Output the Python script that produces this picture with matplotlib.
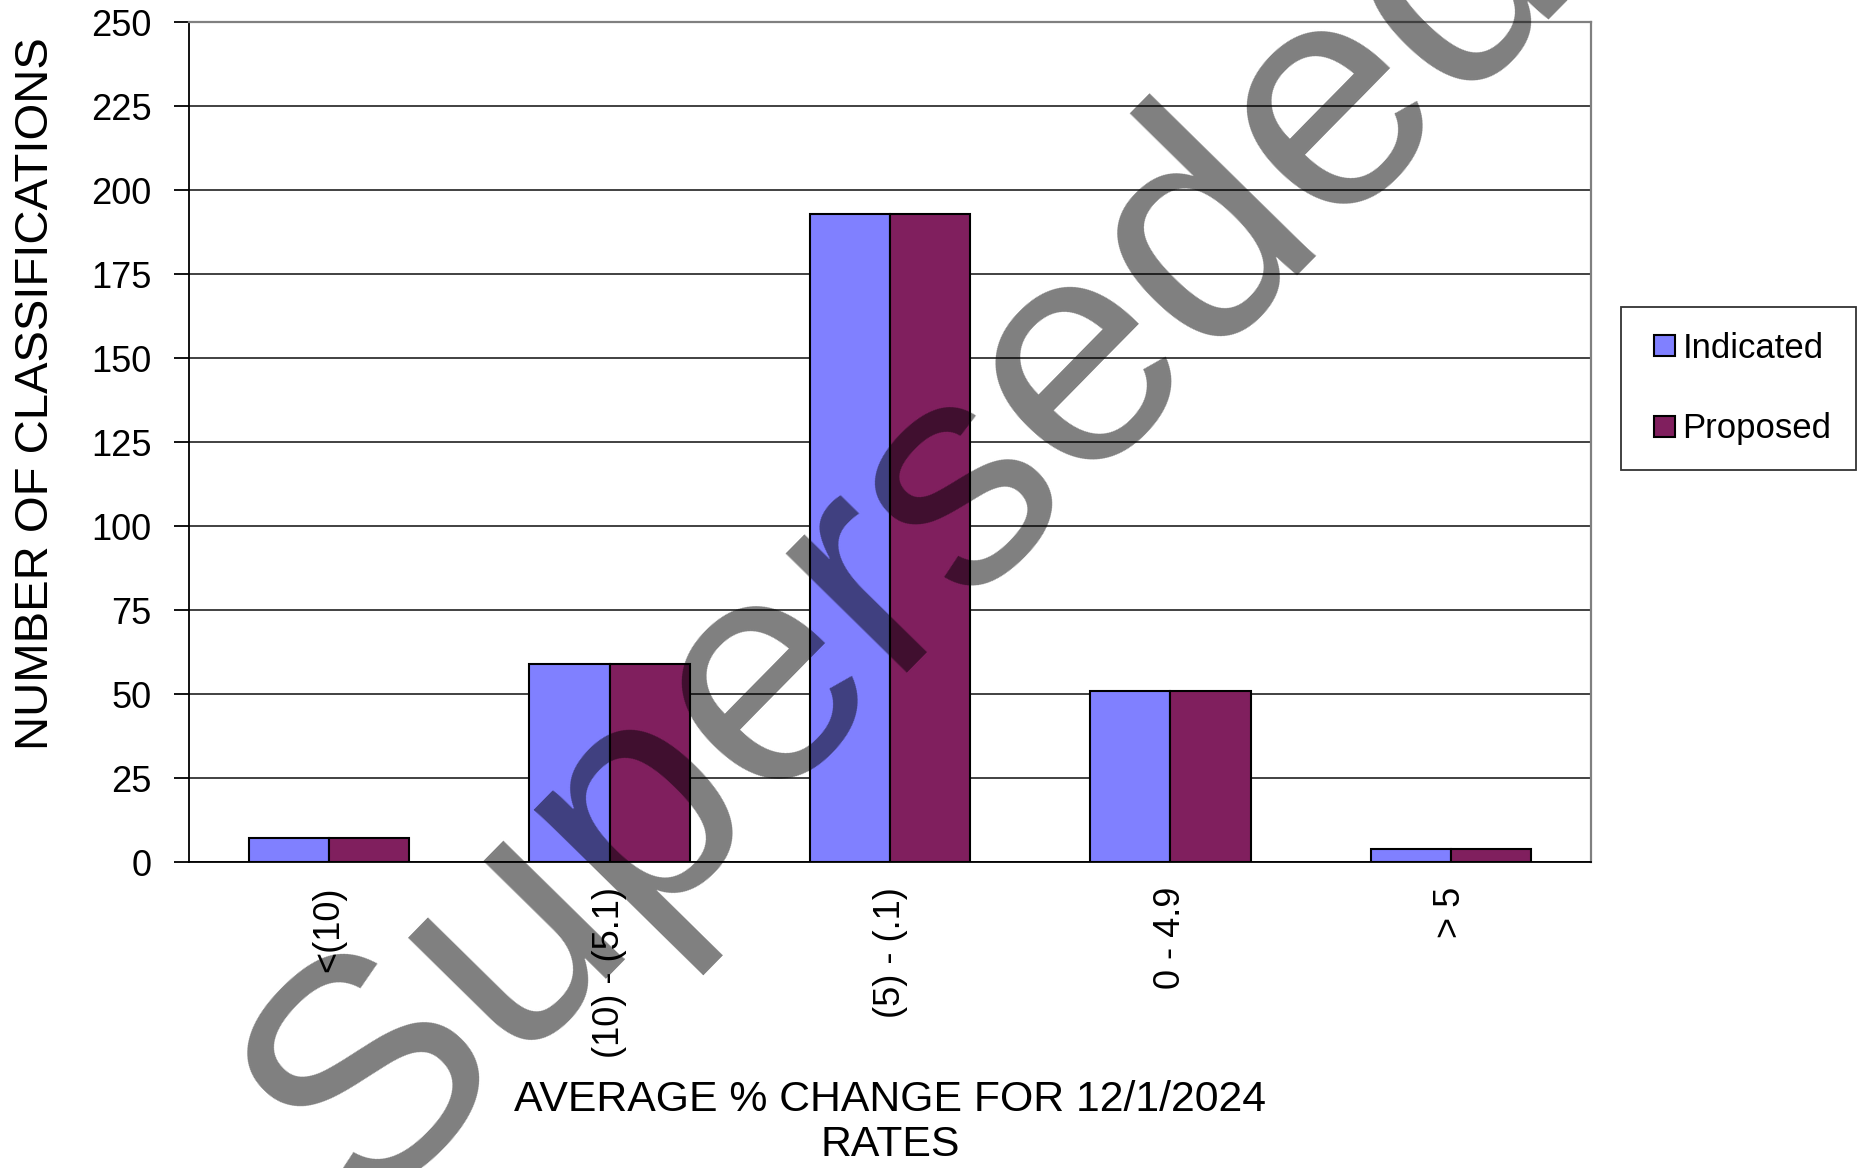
import numpy as np
import matplotlib
matplotlib.use("Agg")
import matplotlib.pyplot as plt
from matplotlib.patches import Patch, Rectangle
from matplotlib.legend_handler import HandlerPatch

categories = ["<(10)", "(10) - (5.1)", "(5) - (.1)", "0 - 4.9", "> 5"]
indicated = [7, 59, 193, 51, 4]
proposed = [7, 59, 193, 51, 4]
yticks = [0, 25, 50, 75, 100, 125, 150, 175, 200, 225, 250]

plt.rcParams['font.family'] = ['Liberation Sans', 'DejaVu Sans']

W, H = 1866, 1168
fig = plt.figure(figsize=(W / 100, H / 100), dpi=100)
ax = fig.add_axes([189 / W, 1 - 862 / H, (1591 - 189) / W, (862 - 22) / H])

x = np.arange(len(categories))
bw = 0.286
ax.bar(x - bw / 2, indicated, bw, color='#8080FF', edgecolor='black', linewidth=1.5, label='Indicated', zorder=2)
ax.bar(x + bw / 2, proposed, bw, color='#801F5E', edgecolor='black', linewidth=1.5, label='Proposed', zorder=2)

ax.set_xlim(-0.5, len(categories) - 0.5)
ax.set_ylim(0, 250)
ax.set_yticks(yticks)
ax.set_xticks(x)
ax.set_xticklabels(categories, rotation=90, fontsize=26)
ax.tick_params(axis='x', length=0, pad=18)
ax.tick_params(axis='y', direction='out', length=11, width=1.3, pad=16, labelsize=26)

ax.yaxis.grid(True, color='#333333', linewidth=1.3)
ax.set_axisbelow(True)
for s in ['top', 'right']:
    ax.spines[s].set_color('#808080')
    ax.spines[s].set_linewidth(1.6)
for s in ['left', 'bottom']:
    ax.spines[s].set_color('black')
    ax.spines[s].set_linewidth(1.3)

ax.set_ylabel('NUMBER OF CLASSIFICATIONS', fontsize=34)
ax.yaxis.set_label_coords(-0.109, 0.557)
ax.yaxis.label.set_va('center')

ax.set_xlabel('AVERAGE % CHANGE FOR 12/1/2024\nRATES', fontsize=30.8, linespacing=1.15)
ax.xaxis.set_label_coords(0.5, -0.31)
ax.xaxis.label.set_va('center')


class SquareHandler(HandlerPatch):
    def create_artists(self, legend, orig_handle, xdescent, ydescent, width, height, fontsize, trans):
        side = height
        p = Rectangle((-xdescent + width - side, -ydescent), side, side,
                      facecolor=orig_handle.get_facecolor(), edgecolor='black', linewidth=1.5)
        p.set_transform(trans)
        return [p]


handles = [Patch(facecolor='#8080FF', edgecolor='black', linewidth=1.5),
           Patch(facecolor='#801F5E', edgecolor='black', linewidth=1.5)]
leg = fig.legend(handles, ['Indicated', 'Proposed'], loc='upper left',
                 bbox_to_anchor=(1621 / W, 1 - 307 / H), fontsize=25,
                 frameon=True, fancybox=False, handlelength=0.85, handleheight=0.55,
                 handletextpad=0.2, labelspacing=1.37, borderpad=0.715, borderaxespad=0,
                 handler_map={Patch: SquareHandler()})
leg.get_frame().set_edgecolor('black')
leg.get_frame().set_linewidth(1.3)

fig.text(0.4877, 0.5410, 'Superseded', rotation=45.5, fontsize=232, color='black', alpha=0.5,
         ha='center', va='center', rotation_mode='anchor', zorder=10)

fig.savefig('out.png', dpi=100)
